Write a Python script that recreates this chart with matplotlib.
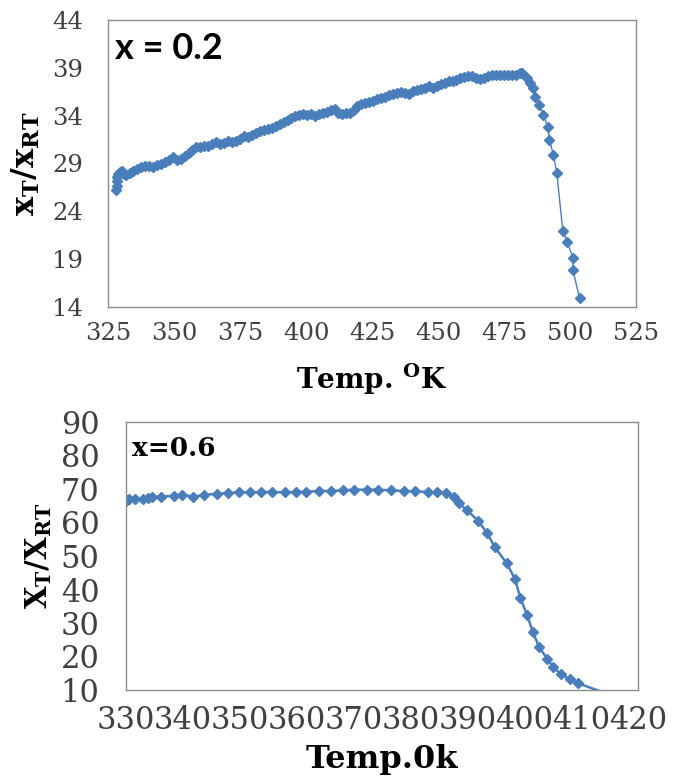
import matplotlib.pyplot as plt

plt.rcParams['mathtext.fontset'] = 'dejavuserif'

# x = 0.2 data
temp_02 = [328.2, 328.3, 328.4, 328.5, 328.8, 329.5, 330.2, 331.0, 332.0, 333.2,
           334.5, 336.0, 337.5, 339.0, 340.5, 342.0, 343.5, 345.0, 346.5, 348.0,
           349.5, 351.0, 352.5, 354.0, 355.5, 357.0, 358.5, 360.0, 361.5, 363.0,
           364.5, 366.0, 367.5, 369.0, 370.5, 372.0, 373.5, 375.0, 376.5, 378.0,
           379.5, 381.0, 382.5, 384.0, 385.5, 387.0, 388.5, 390.0, 391.5, 393.0,
           394.5, 396.0, 397.5, 399.0, 400.5, 402.0, 403.5, 405.0, 406.5, 408.0,
           409.5, 411.0, 412.0, 413.5, 415.0, 416.5, 418.0, 419.5, 421.0, 422.5,
           424.0, 425.5, 427.0, 428.5, 430.0, 431.5, 433.0, 434.5, 436.0, 437.5,
           439.0, 440.5, 442.0, 443.5, 445.0, 446.5, 448.0, 449.5, 451.0, 452.5,
           454.0, 455.5, 457.0, 458.5, 460.0, 461.5, 463.0, 464.5, 466.0, 467.5,
           469.0, 470.5, 472.0, 473.5, 475.0, 476.5, 478.0, 479.5, 481.0, 481.8,
           483.6, 484.9, 485.9, 486.8, 488.4, 489.9, 491.6, 492.2, 493.7, 495.0,
           497.3, 499.0, 501.1, 501.1, 503.6]
ratio_02 = [26.2, 26.7, 27.2, 27.6, 27.9, 28.1, 28.2, 27.9, 27.8, 28.0,
            28.2, 28.4, 28.6, 28.7, 28.7, 28.6, 28.8, 29.0, 29.2, 29.4,
            29.7, 29.4, 29.5, 29.8, 30.1, 30.4, 30.7, 30.7, 30.8, 30.8,
            31.0, 31.2, 31.0, 31.1, 31.3, 31.2, 31.4, 31.6, 31.9, 31.8,
            32.0, 32.2, 32.4, 32.5, 32.6, 32.7, 32.9, 33.1, 33.3, 33.5,
            33.8, 34.0, 34.1, 34.2, 34.1, 34.2, 34.0, 34.2, 34.3, 34.4,
            34.6, 34.7, 34.3, 34.2, 34.3, 34.3, 34.6, 35.0, 35.2, 35.3,
            35.4, 35.5, 35.7, 35.8, 36.0, 36.2, 36.3, 36.4, 36.5, 36.4,
            36.3, 36.6, 36.7, 36.8, 36.9, 37.1, 36.9, 37.1, 37.3, 37.4,
            37.6, 37.6, 37.7, 37.9, 38.0, 38.1, 38.1, 37.9, 37.8, 37.9,
            38.1, 38.3, 38.2, 38.2, 38.2, 38.2, 38.2, 38.3, 38.5, 38.5,
            37.9, 37.4, 36.9, 36.0, 35.1, 34.1, 32.8, 31.5, 29.9, 28.0,
            21.9, 20.8, 19.1, 17.9, 14.9]

# x = 0.6 data
temp_06 = [330.0, 330.2, 330.5, 331.5, 333.0, 333.8, 334.6, 336.1, 338.4, 339.9,
           341.8, 343.7, 346.0, 348.0, 349.9, 351.8, 353.7, 355.6, 357.9, 359.8,
           361.7, 364.0, 366.0, 368.2, 370.1, 372.4, 374.3, 376.6, 378.9, 380.8,
           383.1, 384.6, 386.2, 387.7, 388.5, 390.0, 391.9, 393.5, 394.8, 396.9,
           398.4, 399.3, 400.5, 401.5, 402.6, 404.0, 405.1, 406.4, 408.0, 409.5,
           414.0]
ratio_06 = [66.3, 66.7, 67.0, 67.0, 67.0, 67.3, 67.7, 67.7, 68.0, 68.3,
            67.7, 68.2, 68.6, 68.8, 69.0, 69.0, 69.1, 69.1, 69.0, 69.1,
            69.2, 69.4, 69.4, 69.6, 69.8, 69.8, 69.8, 69.6, 69.4, 69.3,
            69.1, 69.0, 68.8, 67.6, 65.8, 63.6, 60.5, 56.8, 52.7, 47.9,
            43.0, 37.6, 32.4, 27.4, 22.9, 19.4, 16.8, 14.8, 13.2, 12.0,
            9.2]

xticks_02 = [325, 350, 375, 400, 425, 450, 475, 500, 525]
yticks_02 = [14, 19, 24, 29, 34, 39, 44]
xticks_06 = [330, 340, 350, 360, 370, 380, 390, 400, 410, 420]
yticks_06 = [10, 20, 30, 40, 50, 60, 70, 80, 90]

blue = '#4A7EBB'
tick_col = '#404040'

fig = plt.figure(figsize=(6.78, 7.81), dpi=100)

# ---- top panel
ax1 = fig.add_axes([108/678, 1 - 307/781, 528/678, 287/781])
ax1.plot(temp_02, ratio_02, color=blue, lw=1, marker='D', ms=5.5, mec=blue, mfc=blue)
ax1.set_xlim(325, 525)
ax1.set_ylim(14, 44)
ax1.set_xticks(xticks_02)
ax1.set_yticks(yticks_02)
ax1.tick_params(length=0, colors=tick_col)
ax1.tick_params(axis='x', pad=11)
ax1.tick_params(axis='y', pad=18)
for lab in ax1.get_xticklabels() + ax1.get_yticklabels():
    lab.set_fontfamily('DejaVu Serif')
    lab.set_fontsize(17.5)
ax1.set_xlabel(r'Temp. $^{\mathbf{O}}$K', fontsize=20, fontfamily='DejaVu Serif',
               fontweight='bold')
ax1.xaxis.set_label_coords(0.5, -0.19)
ax1.set_ylabel(r'$\mathbf{x_{T}/x_{RT}}$', fontsize=23)
ax1.yaxis.set_label_coords(-0.125, 0.5)
ax1.text(0.013, 0.9, 'x = 0.2', transform=ax1.transAxes, fontfamily='Lato',
         fontweight='bold', fontsize=26, va='center', ha='left')

# ---- bottom panel
ax2 = fig.add_axes([126/678, 1 - 690/781, 512/678, 268/781])
ax2.plot(temp_06, ratio_06, color=blue, lw=1.8, marker='D', ms=5.5, mec=blue, mfc=blue,
         markevery=list(range(len(temp_06) - 1)))
ax2.set_xlim(330, 420)
ax2.set_ylim(10, 90)
ax2.set_xticks(xticks_06)
ax2.set_yticks(yticks_06)
ax2.tick_params(length=0, colors=tick_col)
ax2.tick_params(axis='x', pad=11)
ax2.tick_params(axis='y', pad=19)
for lab in ax2.get_xticklabels() + ax2.get_yticklabels():
    lab.set_fontfamily('DejaVu Serif')
    lab.set_fontsize(22)
ax2.set_xlabel('Temp.0k', fontsize=23, fontfamily='DejaVu Serif', fontweight='bold')
ax2.xaxis.set_label_coords(0.5, -0.2)
ax2.set_ylabel(r'$\mathbf{X_{T}/X_{RT}}$', fontsize=21)
ax2.yaxis.set_label_coords(-0.14, 0.5)
ax2.text(0.012, 0.9, 'x=0.6', transform=ax2.transAxes, fontfamily='DejaVu Serif',
         fontweight='bold', fontsize=19, va='center', ha='left')

for ax in (ax1, ax2):
    for sp in ax.spines.values():
        sp.set_color('#8c8c8c')
        sp.set_linewidth(1)

fig.savefig('out.png', dpi=100)
